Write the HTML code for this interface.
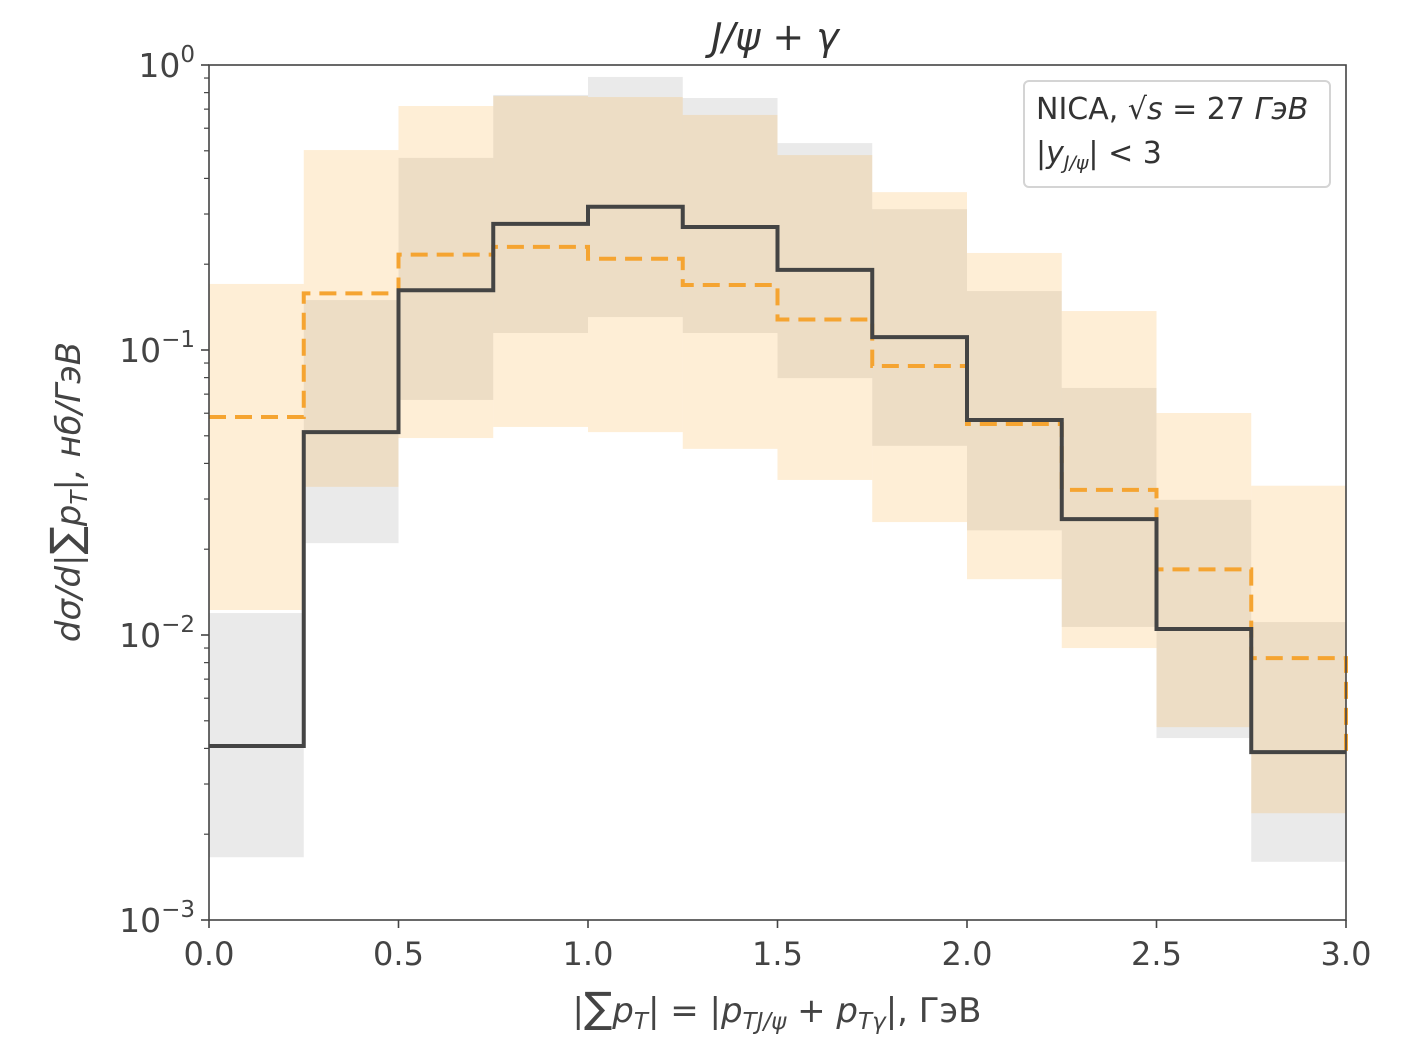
<!DOCTYPE html>
<html><head><meta charset="utf-8"><style>
html,body{margin:0;padding:0;background:#fff;}
svg{display:block;font-family:"DejaVu Sans","Liberation Sans",sans-serif;}
</style></head><body>
<svg id="chart" width="1407" height="1056" viewBox="0 0 1407 1056" xmlns="http://www.w3.org/2000/svg">
<g id="bands"></g>
<g id="lines"></g>
<g id="axes"></g>
<text x="775" y="50" text-anchor="middle" font-size="38" font-style="italic" fill="#333">J/ψ + γ</text>
<text x="777" y="1022" text-anchor="middle" font-size="34" fill="#444">|<tspan font-size="42">∑</tspan><tspan font-style="italic">p</tspan><tspan font-style="italic" font-size="23" dy="7">T</tspan><tspan dy="-7">| = |</tspan><tspan font-style="italic">p</tspan><tspan font-style="italic" font-size="23" dy="7">TJ/ψ</tspan><tspan dy="-7"> + </tspan><tspan font-style="italic">p</tspan><tspan font-style="italic" font-size="23" dy="7">Tγ</tspan><tspan dy="-7">|, ГэВ</tspan></text>
<text transform="translate(80,492) rotate(-90)" text-anchor="middle" font-size="34" fill="#444" font-style="italic">dσ/d|<tspan font-style="normal" font-size="42">∑</tspan>p<tspan font-size="23" dy="7">T</tspan><tspan dy="-7">|,  нб/ГэВ</tspan></text>
<g>
<rect x="1024" y="81" width="306" height="106" rx="5" fill="#fff" stroke="#d4d4d4" stroke-width="2"/>
<text x="1036" y="119" font-size="30" fill="#333">NICA, √<tspan font-style="italic">s</tspan> = 27 <tspan font-style="italic">ГэВ</tspan></text>
<text x="1036" y="163" font-size="30" fill="#333">|<tspan font-style="italic">y</tspan><tspan font-style="italic" font-size="19" dy="6">J/ψ</tspan><tspan dy="-6">| &lt; 3</tspan></text>
</g>
</svg>
<script>
const binEdges=[0,0.25,0.5,0.75,1.0,1.25,1.5,1.75,2.0,2.25,2.5,2.75,3.0];
const blackVals=[0.00408,0.0515,0.162,0.277,0.318,0.270,0.191,0.111,0.0568,0.0255,0.0105,0.00388];
const orangeVals=[0.0582,0.158,0.216,0.230,0.209,0.169,0.128,0.0879,0.055,0.0323,0.017,0.0083];
const grayHi=[0.01194,0.1497,0.472,0.785,0.908,0.766,0.532,0.312,0.161,0.0736,0.0298,0.0111];
const grayLo=[0.00166,0.0210,0.0668,0.1147,0.1305,0.1147,0.0797,0.0461,0.0233,0.01067,0.00435,0.0016];
const orangeHi=[0.1705,0.503,0.718,0.778,0.772,0.668,0.483,0.358,0.219,0.137,0.0601,0.0334];
const orangeLo=[0.01224,0.0331,0.0491,0.0537,0.0515,0.045,0.035,0.0249,0.0157,0.009,0.00475,0.00237];
const xTicks=[0,0.5,1.0,1.5,2.0,2.5,3.0];
const xTickLabels=["0.0","0.5","1.0","1.5","2.0","2.5","3.0"];
const yDecades=[0,-1,-2,-3];

const L=209,R=1346,T=65,B=920;
const xs=v=>L+(v-0)/3*(R-L);
const ys=v=>T+(-Math.log10(v))/3*(B-T);
const NS="http://www.w3.org/2000/svg";
function mk(tag,attrs,parent){const e=document.createElementNS(NS,tag);for(const k in attrs)e.setAttribute(k,attrs[k]);parent.appendChild(e);return e;}
const bands=document.getElementById('bands'),lines=document.getElementById('lines'),axes=document.getElementById('axes');
for(let i=0;i<blackVals.length;i++){
  const x0=xs(binEdges[i]),x1=xs(binEdges[i+1]);
  const g=mk('rect',{x:x0,y:ys(grayHi[i]),width:x1-x0,height:ys(grayLo[i])-ys(grayHi[i]),fill:'#8a8a8a','fill-opacity':0.18},bands);
  
  
  const o=mk('rect',{x:x0,y:ys(orangeHi[i]),width:x1-x0,height:ys(orangeLo[i])-ys(orangeHi[i]),fill:'#f8a830','fill-opacity':0.2},bands);
  
  
}
function stepPath(vals){let d='';for(let i=0;i<vals.length;i++){const y=ys(vals[i]);d+=(i==0?'M':'L')+xs(binEdges[i])+','+y+'L'+xs(binEdges[i+1])+','+y;}return d;}
const po=mk('path',{d:stepPath(orangeVals)+'L'+xs(3)+','+ys(blackVals[blackVals.length-1]),fill:'none',stroke:'#f5a431','stroke-width':4,'stroke-dasharray':'17,9'},lines);


const pb=mk('path',{d:stepPath(blackVals),fill:'none',stroke:'#444','stroke-width':4},lines);


const frame=mk('rect',{x:L,y:T,width:R-L,height:B-T,fill:'none',stroke:'#444','stroke-width':1.6},axes);


xTicks.forEach((v,i)=>{
  mk('line',{x1:xs(v),x2:xs(v),y1:B,y2:B+8,stroke:'#444','stroke-width':1.6},axes);
  const t=mk('text',{x:xs(v),y:B+45,'text-anchor':'middle','font-size':32,fill:'#444'},axes);
  t.textContent=xTickLabels[i];
  
  
});
yDecades.forEach(d=>{
  const y=ys(Math.pow(10,d));
  mk('line',{x1:L-8,x2:L,y1:y,y2:y,stroke:'#444','stroke-width':1.6},axes);
  const t=mk('text',{x:L-14,y:y+12,'text-anchor':'end','font-size':33,fill:'#444'},axes);
  t.innerHTML='10<tspan font-size="23" dy="-15">'+(d==0?'0':'−'+(-d))+'</tspan>';
  
  
  if(d>-3){for(let m=2;m<=9;m++){const yy=ys(m*Math.pow(10,d-1));mk('line',{x1:L-5,x2:L,y1:yy,y2:yy,stroke:'#444','stroke-width':1.2},axes);}}
});
</script>
</body></html>
